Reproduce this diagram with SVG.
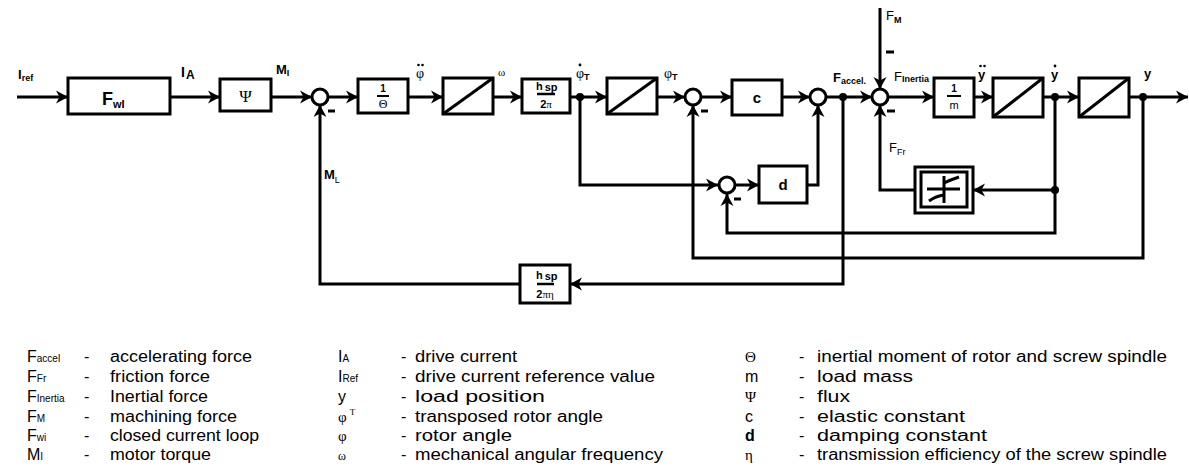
<svg xmlns="http://www.w3.org/2000/svg" width="1189" height="472" viewBox="0 0 1189 472">
<defs>
<marker id="arr" markerUnits="userSpaceOnUse" markerWidth="16" markerHeight="16" refX="13" refY="8" orient="auto">
<path d="M1,1.5 L13,8 L1,14.5 L4.5,8 z" fill="#000"/>
</marker>
<style>
.ln{fill:none;stroke:#000;stroke-width:3}
.bx{fill:#fff;stroke:#000;stroke-width:3}
.sm{fill:#fff;stroke:#000;stroke-width:3}
.lb{font-family:"Liberation Sans",Arial,sans-serif;font-weight:bold;font-size:13px;fill:#000}
.sub{font-size:9px}
.gr{font-family:"Liberation Serif","Times New Roman",serif;fill:#000}
.lg{font-family:"Liberation Sans",Arial,sans-serif;font-size:16px;fill:#000}
.ls{font-size:10px}
.dot{fill:#000}
</style>
</defs>
<rect width="1189" height="472" fill="#fff"/>

<g id="connectors">
<line class="ln" x1="17" y1="97" x2="68" y2="97" marker-end="url(#arr)"/>
<line class="ln" x1="170" y1="97" x2="220" y2="97" marker-end="url(#arr)"/>
<line class="ln" x1="271" y1="97" x2="312" y2="97" marker-end="url(#arr)"/>
<line class="ln" x1="328" y1="97" x2="358" y2="97" marker-end="url(#arr)"/>
<line class="ln" x1="408" y1="97" x2="443" y2="97" marker-end="url(#arr)"/>
<line class="ln" x1="493" y1="97" x2="522" y2="97" marker-end="url(#arr)"/>
<line class="ln" x1="570" y1="97" x2="607" y2="97" marker-end="url(#arr)"/>
<line class="ln" x1="657" y1="97" x2="685" y2="97" marker-end="url(#arr)"/>
<line class="ln" x1="701" y1="97" x2="732" y2="97" marker-end="url(#arr)"/>
<line class="ln" x1="782" y1="97" x2="810" y2="97" marker-end="url(#arr)"/>
<line class="ln" x1="826" y1="97" x2="872" y2="97" marker-end="url(#arr)"/>
<line class="ln" x1="888" y1="97" x2="934" y2="97" marker-end="url(#arr)"/>
<line class="ln" x1="974" y1="97" x2="993" y2="97" marker-end="url(#arr)"/>
<line class="ln" x1="1043" y1="97" x2="1079" y2="97" marker-end="url(#arr)"/>
<line class="ln" x1="1129" y1="97" x2="1188" y2="97" marker-end="url(#arr)"/>
<line class="ln" x1="880" y1="8" x2="880" y2="89" marker-end="url(#arr)"/>
<polyline class="ln" points="915,190 880,190 880,105" marker-end="url(#arr)"/>
<polyline class="ln" points="1055,97 1055,233 727,233 727,194" marker-end="url(#arr)"/>
<line class="ln" x1="1055" y1="190" x2="973" y2="190" marker-end="url(#arr)"/>
<polyline class="ln" points="1143,97 1143,258 693,258 693,105" marker-end="url(#arr)"/>
<polyline class="ln" points="580,97 580,185 718,185" marker-end="url(#arr)"/>
<line class="ln" x1="736" y1="185" x2="759" y2="185" marker-end="url(#arr)"/>
<polyline class="ln" points="807,185 818,185 818,105" marker-end="url(#arr)"/>
<polyline class="ln" points="843,97 843,284 570,284" marker-end="url(#arr)"/>
<polyline class="ln" points="520,284 320,284 320,105" marker-end="url(#arr)"/>
<circle class="dot" cx="580" cy="97" r="4"/>
<circle class="dot" cx="843" cy="97" r="4"/>
<circle class="dot" cx="1055" cy="97" r="4"/>
<circle class="dot" cx="1143" cy="97" r="4"/>
<circle class="dot" cx="1055" cy="190" r="4"/>
</g>

<g id="n-fwi">
<rect class="bx" x="68" y="78" width="102" height="36"/>
<text class="lb" x="102" y="105" style="font-size:18px">F<tspan style="font-size:11px" dy="3">wI</tspan></text>
</g>
<g id="n-psi">
<rect class="bx" x="220" y="79" width="51" height="32"/>
<text class="gr" x="245.5" y="102" font-size="17" text-anchor="middle">Ψ</text>
</g>
<g id="n-sum1"><circle class="sm" cx="320" cy="97" r="8"/><line class="ln" x1="328" y1="111" x2="335" y2="111"/></g>
<g id="n-theta">
<rect class="bx" x="358" y="79" width="50" height="34"/>
<text class="lb" x="383" y="92" text-anchor="middle" style="font-size:10px">1</text>
<line x1="377" y1="96" x2="389" y2="96" stroke="#000" stroke-width="2"/>
<text class="gr" x="383" y="108" text-anchor="middle" font-size="12">Θ</text>
</g>
<g id="n-int1"><rect class="bx" x="443" y="78" width="50" height="36"/><line class="ln" x1="443" y1="114" x2="493" y2="78"/></g>
<g id="n-hsp">
<rect class="bx" x="522" y="79" width="48" height="34"/>
<text class="lb" x="536" y="90" style="font-size:11px">h<tspan dx="2" dy="1">sp</tspan></text>
<line x1="537" y1="94" x2="555" y2="94" stroke="#000" stroke-width="2.5"/>
<text class="lb" x="546" y="108" text-anchor="middle" style="font-size:11px">2<tspan class="gr" style="font-weight:normal">π</tspan></text>
</g>
<g id="n-int2"><rect class="bx" x="607" y="78" width="50" height="36"/><line class="ln" x1="607" y1="114" x2="657" y2="78"/></g>
<g id="n-sum2"><circle class="sm" cx="693" cy="97" r="8"/><line class="ln" x1="701" y1="111" x2="708" y2="111"/></g>
<g id="n-c"><rect class="bx" x="732" y="80" width="50" height="35"/><text class="lb" x="757" y="103" text-anchor="middle" style="font-size:15px">c</text></g>
<g id="n-sum3"><circle class="sm" cx="818" cy="97" r="8"/></g>
<g id="n-sum4"><circle class="sm" cx="880" cy="97" r="8"/><line class="ln" x1="886" y1="52" x2="894" y2="52"/><line class="ln" x1="887" y1="111" x2="895" y2="111"/></g>
<g id="n-m">
<rect class="bx" x="934" y="78" width="40" height="39"/>
<text class="lb" x="954" y="92" text-anchor="middle" style="font-size:10px">1</text>
<line x1="947" y1="96" x2="961" y2="96" stroke="#000" stroke-width="2"/>
<text class="lb" x="954" y="109" text-anchor="middle" style="font-size:11px;font-weight:normal">m</text>
</g>
<g id="n-int3"><rect class="bx" x="993" y="78" width="50" height="39"/><line class="ln" x1="993" y1="117" x2="1043" y2="78"/></g>
<g id="n-int4"><rect class="bx" x="1079" y="78" width="50" height="39"/><line class="ln" x1="1079" y1="117" x2="1129" y2="78"/></g>
<g id="n-sum5"><circle class="sm" cx="727" cy="185" r="8"/><line class="ln" x1="734" y1="199" x2="741" y2="199"/></g>
<g id="n-d"><rect class="bx" x="759" y="166" width="48" height="37"/><text class="lb" x="783" y="190" text-anchor="middle" style="font-size:15px">d</text></g>
<g id="n-fric">
<rect class="bx" x="915" y="167" width="58" height="46"/>
<rect x="921" y="172" width="46" height="35" fill="none" stroke="#000" stroke-width="3"/>
<line class="ln" x1="927" y1="189" x2="960" y2="189"/>
<line class="ln" x1="944" y1="176" x2="944" y2="203"/>
<path class="ln" d="M944,183 Q950,180 959,177"/>
<path class="ln" d="M929,201 Q936,196 944,195"/>
</g>
<g id="n-hspeta">
<rect class="bx" x="520" y="265" width="50" height="38"/>
<text class="lb" x="536" y="279" style="font-size:11px">h<tspan dx="2" dy="1">sp</tspan></text>
<line x1="537" y1="284" x2="554" y2="284" stroke="#000" stroke-width="2.5"/>
<text class="lb" x="545" y="298" text-anchor="middle" style="font-size:11px">2<tspan class="gr" style="font-weight:normal">πη</tspan></text>
</g>

<g id="labels">
<text class="lb" x="18" y="79">I<tspan class="sub" dy="2">ref</tspan></text>
<text class="lb" x="181" y="77" style="font-size:14px">I<tspan style="font-size:12px" dx="1" dy="2">A</tspan></text>
<text class="lb" x="276" y="74">M<tspan class="sub" dy="2">I</tspan></text>
<text class="gr" x="416" y="78" font-size="14">φ</text>
<circle class="dot" cx="418.5" cy="65" r="1.3"/><circle class="dot" cx="422.5" cy="65" r="1.3"/>
<text class="gr" x="498" y="76" font-size="11">ω</text>
<text class="gr" x="576" y="78" font-size="14">φ<tspan class="lb sub" dy="2">T</tspan></text>
<circle class="dot" cx="580" cy="65" r="1.4"/>
<text class="gr" x="664" y="78" font-size="14">φ<tspan class="lb sub" dy="2">T</tspan></text>
<text class="lb" x="833" y="82">F<tspan class="sub" dy="2">accel.</tspan></text>
<text class="lb" x="886" y="20" style="font-weight:normal">F<tspan class="sub" dy="3" style="font-weight:bold">M</tspan></text>
<text class="lb" x="894" y="81" style="font-weight:normal">F<tspan class="sub" dy="1" style="font-weight:bold">Inertia</tspan></text>
<text class="lb" x="978" y="79">y</text>
<circle class="dot" cx="980.5" cy="66" r="1.3"/><circle class="dot" cx="984.5" cy="66" r="1.3"/>
<text class="lb" x="1051" y="79">y</text>
<circle class="dot" cx="1055" cy="66" r="1.4"/>
<text class="lb" x="1144" y="78">y</text>
<text class="lb" x="889" y="152" style="font-weight:normal">F<tspan class="sub" dy="3">Fr</tspan></text>
<text class="lb" x="324" y="179">M<tspan class="sub" dy="4" style="font-weight:normal">L</tspan></text>
</g>

<g id="legend">
<g class="lg">
<text x="27" y="362">F<tspan class="ls">accel</tspan></text><text x="84" y="362">-</text><text x="110" y="362" textLength="142" lengthAdjust="spacingAndGlyphs">accelerating force</text>
<text x="27" y="382">F<tspan class="ls">Fr</tspan></text><text x="84" y="382">-</text><text x="110" y="382" textLength="100" lengthAdjust="spacingAndGlyphs">friction force</text>
<text x="27" y="402">F<tspan class="ls">Inertia</tspan></text><text x="84" y="402">-</text><text x="110" y="402" textLength="98" lengthAdjust="spacingAndGlyphs">Inertial force</text>
<text x="27" y="422">F<tspan class="ls">M</tspan></text><text x="84" y="422">-</text><text x="110" y="422" textLength="127" lengthAdjust="spacingAndGlyphs">machining force</text>
<text x="27" y="441">F<tspan class="ls">wi</tspan></text><text x="84" y="441">-</text><text x="110" y="441" textLength="149" lengthAdjust="spacingAndGlyphs">closed current loop</text>
<text x="27" y="460">M<tspan class="ls">I</tspan></text><text x="84" y="460">-</text><text x="110" y="460" textLength="101" lengthAdjust="spacingAndGlyphs">motor torque</text>

<text x="338" y="362">I<tspan class="ls">A</tspan></text><text x="401" y="362">-</text><text x="415" y="362" textLength="102" lengthAdjust="spacingAndGlyphs">drive current</text>
<text x="338" y="382">I<tspan class="ls">Ref</tspan></text><text x="401" y="382">-</text><text x="415" y="382" textLength="240" lengthAdjust="spacingAndGlyphs">drive current reference value</text>
<text x="338" y="402">y</text><text x="401" y="402">-</text><text x="415" y="402" textLength="130" lengthAdjust="spacingAndGlyphs">load position</text>
<text x="338" y="422" class="gr" font-size="15">φ<tspan font-size="9" dx="3" dy="-7">T</tspan></text><text x="401" y="422">-</text><text x="415" y="422" textLength="188" lengthAdjust="spacingAndGlyphs">transposed rotor angle</text>
<text x="338" y="441" class="gr" font-size="15">φ</text><text x="401" y="441">-</text><text x="415" y="441" textLength="97" lengthAdjust="spacingAndGlyphs">rotor angle</text>
<text x="338" y="460" class="gr" font-size="12">ω</text><text x="401" y="460">-</text><text x="415" y="460" textLength="248" lengthAdjust="spacingAndGlyphs">mechanical angular frequency</text>

<text x="745" y="362" class="gr" font-size="15">Θ</text><text x="799" y="362">-</text><text x="817" y="362" textLength="350" lengthAdjust="spacingAndGlyphs">inertial moment of rotor and screw spindle</text>
<text x="745" y="382">m</text><text x="799" y="382">-</text><text x="817" y="382" textLength="96" lengthAdjust="spacingAndGlyphs">load mass</text>
<text x="745" y="402" class="gr" font-size="15">Ψ</text><text x="799" y="402">-</text><text x="817" y="402" textLength="33" lengthAdjust="spacingAndGlyphs">flux</text>
<text x="745" y="422">c</text><text x="799" y="422">-</text><text x="817" y="422" textLength="148" lengthAdjust="spacingAndGlyphs">elastic constant</text>
<text x="745" y="441" style="font-weight:bold">d</text><text x="799" y="441">-</text><text x="817" y="441" textLength="170" lengthAdjust="spacingAndGlyphs">damping constant</text>
<text x="745" y="460" class="gr" font-size="15">η</text><text x="799" y="460">-</text><text x="817" y="460" textLength="350" lengthAdjust="spacingAndGlyphs">transmission efficiency of the screw spindle</text>
</g>
</g>
</svg>
